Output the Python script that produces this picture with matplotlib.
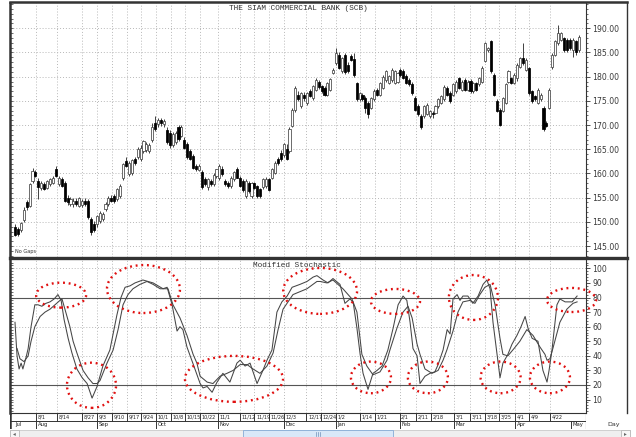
import numpy as np
import matplotlib
matplotlib.use('Agg')
import matplotlib.pyplot as plt
from matplotlib.patches import Ellipse, Rectangle
from matplotlib.lines import Line2D

# ---------------- data ----------------
opens = [
    149.0,148.5,148.3,150.3,154.0,153.3,158.4,160.2,158.4,157.0,
    157.8,157.0,157.8,158.1,161.0,157.8,158.8,158.1,155.0,153.6,
    153.7,154.3,153.3,153.5,154.3,154.3,150.5,149.5,149.5,150.2,
    150.5,152.6,153.6,155.0,155.3,154.7,155.3,159.1,162.6,159.8,
    160.0,162.9,163.3,162.9,164.7,164.8,164.7,167.0,170.5,170.2,
    171.0,170.2,169.0,168.4,165.8,166.5,169.5,167.7,167.0,166.0,
    164.7,163.6,161.6,160.8,160.2,158.8,157.1,158.4,157.8,159.5,
    159.0,161.0,158.4,158.1,157.4,158.8,160.9,159.1,158.4,155.3,
    158.1,155.3,158.0,157.4,156.7,157.1,157.4,158.8,159.1,160.0,
    162.9,164.3,163.8,165.0,164.7,169.8,173.2,176.3,173.9,176.3,
    174.6,177.0,175.5,177.3,179.0,178.0,177.7,176.3,177.3,180.8,
    182.8,184.5,181.1,184.5,182.5,184.2,183.6,178.7,175.3,176.3,
    175.6,174.6,173.6,175.3,177.3,176.3,177.7,179.4,178.7,179.4,
    178.7,179.0,181.4,181.1,180.1,179.4,178.4,175.6,173.9,171.8,
    171.8,172.2,171.8,172.5,172.5,173.9,174.6,175.3,177.7,176.6,
    176.3,177.0,179.7,177.3,179.4,177.3,179.2,177.0,178.7,178.4,
    179.0,183.2,185.5,187.3,180.4,175.0,173.2,172.9,174.6,179.0,
    179.7,178.7,179.7,182.1,183.8,181.4,181.8,177.0,176.0,174.6,
    175.3,173.6,170.5,173.6,182.1,184.5,186.9,187.6,187.9,187.6,
    187.6,185.5,187.3,185.5]
highs = [
    149.5,149.0,150.0,153.0,154.5,158.0,161.2,160.8,159.0,158.5,
    158.3,158.6,159.0,159.5,161.5,159.5,159.3,158.5,155.5,155.2,
    155.0,155.0,155.2,154.8,155.0,154.8,151.0,150.2,151.5,152.2,
    152.0,154.0,155.3,155.5,155.8,157.0,157.8,162.2,163.3,162.5,
    163.0,163.4,165.5,165.8,167.0,166.4,166.2,170.5,171.8,171.5,
    171.4,171.2,169.5,169.0,168.5,168.8,170.0,170.0,167.5,166.5,
    165.0,164.0,162.0,162.0,160.8,159.2,159.0,158.8,160.0,161.0,
    161.9,161.5,158.8,158.5,159.5,160.5,161.3,159.5,158.8,158.8,
    158.5,158.3,158.3,157.7,157.0,159.0,159.2,159.0,161.2,162.5,
    163.3,164.8,166.3,166.0,169.5,173.5,178.0,177.0,176.8,176.8,
    176.8,177.5,178.3,179.7,179.4,178.3,178.0,179.0,179.8,181.8,
    185.9,185.0,184.1,184.9,183.0,184.6,184.9,179.0,176.8,176.6,
    176.0,175.0,175.9,177.4,177.6,179.0,180.3,181.4,180.4,181.7,
    181.4,181.0,181.8,181.5,180.5,179.8,178.8,176.0,174.3,172.2,
    174.2,174.5,173.2,172.9,174.2,175.6,176.3,178.2,178.0,177.0,
    178.7,179.3,180.0,179.3,179.8,179.3,179.6,179.0,179.0,180.0,
    182.2,187.2,186.2,187.6,180.8,175.3,173.5,175.9,178.6,181.4,
    180.0,180.7,182.8,184.1,186.9,183.8,182.1,177.3,176.3,177.6,
    176.6,174.0,170.8,177.6,184.8,187.6,190.7,189.3,188.3,188.0,
    188.0,187.9,187.6,188.6]
lows = [
    147.0,147.0,147.8,150.0,152.5,153.0,158.0,159.2,154.7,156.5,
    156.5,156.8,157.5,157.8,159.2,157.5,157.2,154.0,153.5,153.2,
    153.0,153.3,153.0,153.0,153.2,150.5,147.2,148.0,149.0,149.8,
    150.2,152.2,153.3,154.0,153.9,154.3,155.0,158.6,161.3,159.5,
    159.7,161.7,163.0,162.5,164.3,164.5,164.2,166.5,168.8,169.5,
    169.8,169.7,166.0,165.3,165.5,166.0,166.8,167.5,165.0,163.0,
    162.8,161.0,160.5,160.5,156.8,157.5,156.5,157.5,157.5,159.0,
    158.7,159.5,157.5,157.0,157.0,158.5,159.0,157.2,156.2,155.0,
    156.0,155.0,156.8,155.0,155.0,156.8,157.0,156.3,158.8,159.8,
    161.8,162.6,163.5,162.7,164.3,169.5,172.8,175.0,173.5,175.0,
    174.2,175.8,175.2,177.0,177.5,176.6,176.0,176.0,177.0,180.6,
    182.5,181.5,180.8,180.6,180.8,183.2,180.0,175.0,175.0,175.0,
    172.5,171.5,173.3,175.0,176.0,176.0,177.4,179.0,178.4,179.0,
    178.4,178.7,180.0,179.5,178.5,178.0,176.3,173.0,171.8,169.2,
    171.5,172.0,171.5,171.5,172.2,173.6,174.3,175.0,176.0,174.6,
    176.0,176.7,177.4,177.0,177.0,177.0,176.7,176.7,177.0,178.0,
    178.7,183.0,185.2,180.8,176.0,172.6,169.8,172.6,174.3,178.7,
    178.4,178.4,179.1,181.8,182.5,181.1,176.3,174.6,175.0,174.3,
    175.0,168.8,169.5,173.3,181.5,184.2,186.6,187.3,185.0,185.2,
    185.6,184.0,184.5,185.2]
closes = [
    147.3,147.5,149.7,152.5,153.0,157.8,160.5,159.5,157.1,158.0,
    156.7,158.4,158.8,159.0,159.5,159.0,157.4,154.3,154.0,154.7,
    154.3,153.6,155.0,154.3,153.6,150.9,147.8,148.4,151.2,151.9,
    151.6,153.6,155.0,154.3,154.3,156.7,157.4,161.9,161.6,162.2,
    162.8,162.2,165.0,165.3,166.7,166.0,165.8,169.5,169.1,171.0,
    170.4,170.9,166.5,165.8,168.2,168.3,167.2,169.5,165.3,163.3,
    163.0,161.2,161.0,161.6,157.1,157.8,158.8,157.8,159.7,160.9,
    161.5,159.8,157.8,157.4,159.1,160.2,159.1,157.4,156.5,158.4,
    156.3,158.0,157.0,155.3,155.3,158.8,158.8,156.5,160.9,162.2,
    162.2,162.9,166.0,163.0,169.1,173.2,177.7,175.3,176.6,175.6,
    176.6,176.0,178.0,179.4,177.8,177.0,176.3,178.7,179.5,181.4,
    184.9,181.8,183.8,180.9,181.1,183.5,180.4,175.3,176.6,175.3,
    173.6,172.2,175.6,177.1,176.3,178.7,180.0,181.1,180.1,181.4,
    181.1,180.7,180.4,179.7,178.7,178.4,176.6,173.2,172.2,169.5,
    173.9,174.2,172.9,172.2,173.9,175.3,176.0,177.9,176.3,174.9,
    178.4,179.0,177.7,179.0,177.3,179.0,177.0,178.7,177.3,179.7,
    181.8,186.9,185.9,181.1,176.3,172.9,170.1,175.6,178.4,181.1,
    178.7,180.4,182.5,183.8,182.8,183.5,176.6,174.9,175.3,177.3,
    176.3,169.1,169.8,177.3,184.5,187.3,189.0,189.0,185.5,185.5,
    185.9,187.6,185.2,188.3]

# stochastic lines: (day position, value)
k_pos = [0.0,0.7,1.4,2.1,2.7,3.8,4.5,5.5,6.8,7.9,9.2,10.6,12.0,13.4,14.7,15.8,16.8,18.2,19.5,21.2,
         23.0,24.7,26.4,28.1,30.1,32.5,33.6,34.9,36.3,37.7,39.4,41.1,43.8,45.5,47.3,49.0,50.7,52.1,53.8,55.5,
         56.5,57.5,58.9,60.9,63.4,64.4,65.8,67.5,69.2,71.2,73.6,76.0,77.1,78.8,80.5,82.9,84.9,86.3,88.0,89.7,
         91.4,93.2,94.9,97.6,100.0,102.1,103.4,105.5,107.2,108.9,111.3,113.0,114.7,115.8,117.1,118.2,119.2,120.9,122.6,124.0,
         125.7,127.7,129.5,131.2,132.9,134.2,135.3,136.3,137.7,138.7,140.4,142.1,143.8,144.9,146.6,148.0,149.0,150.0,151.4,152.4,
         153.4,155.1,156.8,158.6,160.3,161.6,162.7,163.7,165.1,166.1,167.1,168.8,170.2,171.9,173.3,174.7,175.7,177.1,179.1,180.8,
         182.2,182.9,183.9,185.6,186.6,188.4,190.8,192.5]
k_val = [63,40,31,35,31,39,45,60,75,75,74,76,77,79,82,78,65,52,42,31,
         25,21,11,19,33,44,55,68,80,87,88,90,92,91,90,88,86,87,75,57,
         60,58,46,35,21,18,19,15,22,28,22,35,37,33,35,21,30,37,44,70,
         77,81,87,89,91,94,95,92,90,93,89,76,79,77,59,41,28,17,28,30,
         33,44,59,75,81,78,63,45,40,21,26,28,29,34,44,58,55,79,82,78,
         81,81,76,81,89,92,86,63,41,25,35,41,48,54,60,67,59,52,50,30,
         22,30,44,75,79,77,77,81]
d_pos = [0.7,1.7,3.1,4.5,5.5,6.8,8.6,10.3,12.0,13.7,15.4,16.1,17.1,18.8,19.9,21.2,23.3,25.0,26.7,28.1,
         29.1,31.5,33.6,35.3,37.0,38.7,40.4,42.8,45.2,47.3,49.7,52.4,54.1,56.5,58.9,61.0,62.3,63.4,65.8,67.8,
         70.2,72.6,74.7,77.1,79.5,81.5,83.9,86.3,88.4,90.1,91.8,95.2,100.0,103.4,104.5,106.8,108.9,112.3,115.4,117.1,
         118.8,120.5,122.6,125.0,127.4,128.4,130.8,132.9,134.6,136.0,137.7,138.7,140.4,142.8,144.9,146.6,147.9,150.0,151.7,153.4,
         155.8,157.5,159.2,160.9,162.7,164.4,166.1,167.1,168.8,170.9,172.9,175.3,177.4,179.8,181.5,182.2,183.2,184.2,186.6,189.0,
         191.1,192.5]
d_val = [45,38,36,40,50,60,67,70,72,75,78,79,72,60,50,42,30,25,21,21,
         23,35,44,58,75,82,86,89,91,89,86,86,75,66,54,41,35,26,22,21,
         26,28,30,34,34,31,28,33,42,58,72,82,86,91,91,90,92,86,79,70,
         41,33,27,29,37,44,59,70,74,66,48,41,31,28,30,37,44,57,70,77,
         78,76,82,87,89,75,52,41,40,45,50,58,54,46,41,37,38,45,63,72,
         76,77]

week_labels = ['8/1','8/14','8/27','9/3','9/10','9/17','9/24','10/1','10/8','10/15','10/22',
               '11/1','11/12','11/19','11/26','12/3','12/17','12/24','1/2','1/14','1/21',
               '2/1','2/11','2/18','3/1','3/11','3/18','3/25','4/1','4/9','4/22']
week_pos = [7.2,14.3,22.9,28.0,33.2,38.3,43.3,48.3,53.3,58.3,63.4,
            69.6,77.0,82.0,87.0,92.0,99.8,104.8,109.8,118.0,123.3,
            131.7,137.3,142.4,150.3,155.8,160.9,165.9,171.3,176.1,183.2]
month_labels = ['Jul','Aug','Sep','Oct','Nov','Dec','Jan','Feb','Mar','Apr','May']
month_pos = [-0.5,7.2,28.0,48.3,69.6,92.0,109.8,131.7,150.3,171.3,190.4]

price_ticks = [145,150,155,160,165,170,175,180,185,190]
stoch_ticks = [10,20,30,40,50,60,70,80,90,100]

# highlighted zones (centre day, centre value, width days, height value)
zones = [(15.8,81.6,17.1,17.1),(44.0,85.8,25.0,32.9),(104.5,84.5,25.3,31.5),
         (130.3,77.3,16.8,17.1),(157.0,80.0,16.8,30.8),(190.6,78.3,16.8,16.5),
         (26.2,19.8,16.8,31.0),(75.0,24.2,33.6,31.5),(121.9,25.2,13.7,21.7),
         (141.4,25.2,13.7,21.7),(166.3,25.2,13.7,21.7),(183.2,25.2,13.7,21.7)]

# ---------------- layout ----------------
W, H = 636, 437
fig = plt.figure(figsize=(W / 100, H / 100), dpi=100)
fig.patch.set_facecolor('white')

def rect(x0, y0, x1, y1):
    return [x0 / W, 1 - y1 / H, (x1 - x0) / W, (y1 - y0) / H]

XL = (-1.71, 195.55)
ax = fig.add_axes(rect(10, 3, 586, 257))
ax2 = fig.add_axes(rect(10, 259, 586, 413))
axd = fig.add_axes(rect(10, 413, 586, 429))

grid_c = '#b8b8b8'
lab_c = '#3a3a3a'
lab_font = dict(family='DejaVu Sans', size=5.6, color=lab_c)

# ---------------- price panel ----------------
o = np.array(opens); hi = np.array(highs); lo = np.array(lows); c = np.array(closes)
idx = np.arange(len(c))
up = c >= o
ax.vlines(idx, lo, hi, color='#222222', lw=0.6, zorder=3)
ax.bar(idx[up], (c - o)[up], bottom=o[up], width=0.72, color='white',
       edgecolor='#444444', lw=0.55, zorder=4)
ax.bar(idx[~up], (o - c)[~up], bottom=c[~up], width=0.72, color='black',
       edgecolor='black', lw=0.55, zorder=4)
ax.set_xlim(*XL)
ax.set_ylim(142.73, 195.23)

for a in (ax, ax2):
    for p in week_pos:
        a.axvline(p, color=grid_c, lw=0.7, ls=(0, (1, 2)), zorder=1)
for v in price_ticks:
    ax.axhline(v, color=grid_c, lw=0.7, ls=(0, (1, 2)), zorder=1)

ax.set_xticks([])
ax.yaxis.tick_right()
ax.set_yticks(price_ticks)
ax.set_yticklabels(['%.2f' % v for v in price_ticks], fontdict=lab_font)
ax.set_yticks(np.arange(143, 196, 1), minor=True)
ax.tick_params(axis='y', which='major', length=3.0, width=0.6, pad=1.5, color='#333333')
ax.tick_params(axis='y', which='minor', length=1.6, width=0.5, color='#333333')
# small inward ticks along the left border
ax.hlines(np.arange(143, 196, 1), 0, 0.006, transform=ax.get_yaxis_transform(),
          color='#333333', lw=0.5, clip_on=False)

ax.text(0.008, 0.012, 'No Gaps', transform=ax.transAxes, fontsize=3.6,
        family='DejaVu Sans', color='#333333', va='bottom', ha='left')

# ---------------- stochastic panel ----------------
ax2.set_xlim(*XL)
ax2.set_ylim(0.8, 106.4)
for v in (40, 60, 100):
    ax2.axhline(v, color=grid_c, lw=0.7, ls=(0, (1, 2)), zorder=1)
for v in (20, 80):
    ax2.axhline(v, color='#555555', lw=0.8, zorder=2)
ax2.plot(d_pos, d_val, color='#454545', lw=0.75, zorder=3)
ax2.plot(k_pos, k_val, color='#454545', lw=0.75, zorder=3)

for (cx, cy, w, h) in zones:
    ax2.add_patch(Ellipse((cx, cy), w, h, fill=False, edgecolor='#e01010',
                          lw=1.7, ls=(0, (0.8, 1.6)), clip_on=False, zorder=5))

ax2.set_xticks([])
ax2.yaxis.tick_right()
ax2.set_yticks(stoch_ticks)
ax2.set_yticklabels([str(v) for v in stoch_ticks], fontdict=lab_font)
ax2.set_yticks(np.arange(2, 106, 2), minor=True)
ax2.tick_params(axis='y', which='major', length=3.0, width=0.6, pad=1.5, color='#333333')
ax2.tick_params(axis='y', which='minor', length=1.6, width=0.5, color='#333333')
ax2.hlines(np.arange(2, 106, 2), 0, 0.006, transform=ax2.get_yaxis_transform(),
           color='#333333', lw=0.5, clip_on=False)

for a in (ax, ax2):
    for s in a.spines.values():
        s.set_color('#333333')
        s.set_linewidth(0.8)
    a.spines['left'].set_linewidth(1.8)

ax.spines['top'].set_visible(False)
ax.spines['bottom'].set_visible(False)
ax2.spines['top'].set_visible(False)

# ---------------- date rows ----------------
axd.set_xlim(*XL)
axd.set_ylim(16, 0)
axd.axis('off')
axd.axhline(7.8, color='#333333', lw=0.7)
for p, t in zip(week_pos, week_labels):
    axd.plot([p, p], [0, 7.8], color='#333333', lw=0.7)
    axd.text(p + 0.55, 4.0, t, fontsize=3.6, family='DejaVu Sans', va='center',
             ha='left', color='#222222')
for i, (p, t) in enumerate(zip(month_pos, month_labels)):
    if i > 0:
        axd.plot([p, p], [7.8, 16], color='#333333', lw=0.7)
    axd.text(p + 0.55, 11.9, t, fontsize=3.8, family='DejaVu Sans', va='center',
             ha='left', color='#222222')
axd.plot([XL[1], XL[1]], [0, 16], color='#333333', lw=0.8)
axd.plot([XL[0], XL[0]], [0, 16], color='#333333', lw=1.8)

# ---------------- titles & frame ----------------
fig.text(298 / W, 1 - 8.5 / H, 'THE SIAM COMMERCIAL BANK (SCB)', family='Liberation Mono',
         fontsize=5.6, color='#333333', ha='center', va='center')
fig.text(297 / W, 1 - 265.5 / H, 'Modified Stochastic', family='Liberation Mono',
         fontsize=5.6, color='#333333', ha='center', va='center')
fig.text(614 / W, 1 - 424.5 / H, 'Day', family='DejaVu Sans', fontsize=4.6,
         color='#333333', ha='center', va='center')

def fline(x0, y0, x1, y1, lw, col='#333333'):
    fig.add_artist(Line2D([x0 / W, x1 / W], [1 - y0 / H, 1 - y1 / H], lw=lw,
                          color=col, transform=fig.transFigure))

fline(10, 2.2, 627, 2.2, 1.8)          # top frame
fline(10, 257.8, 627, 257.8, 2.4)      # panel separator
fline(626.5, 1.5, 626.5, 258.5, 1.0)   # right frame (price)
fline(626.5, 258.5, 626.5, 413, 1.0)   # right frame (stochastic)

# ---------------- scrollbar ----------------
def frect(x0, y0, x1, y1, fc, ec, lw=0.6):
    fig.add_artist(Rectangle((x0 / W, 1 - y1 / H), (x1 - x0) / W, (y1 - y0) / H,
                             transform=fig.transFigure, facecolor=fc, edgecolor=ec, lw=lw))

frect(10, 430, 630, 437.5, '#efefef', '#c9c9c9')
frect(10, 430, 19, 437.5, '#f7f7f7', '#b9b9b9')
frect(621, 430, 630, 437.5, '#f7f7f7', '#b9b9b9')
frect(243, 430, 393, 437.5, '#d9e8f8', '#86abd6')
fig.text(14.5 / W, 1 - 434 / H, '\u25c2', fontsize=4, color='#666666', ha='center', va='center')
fig.text(625.5 / W, 1 - 434 / H, '\u25b8', fontsize=4, color='#666666', ha='center', va='center')
for gx in (316, 318, 320):
    fline(gx, 432, gx, 436, 0.5, '#6f8fb8')

fig.savefig('out.png', dpi=100)
